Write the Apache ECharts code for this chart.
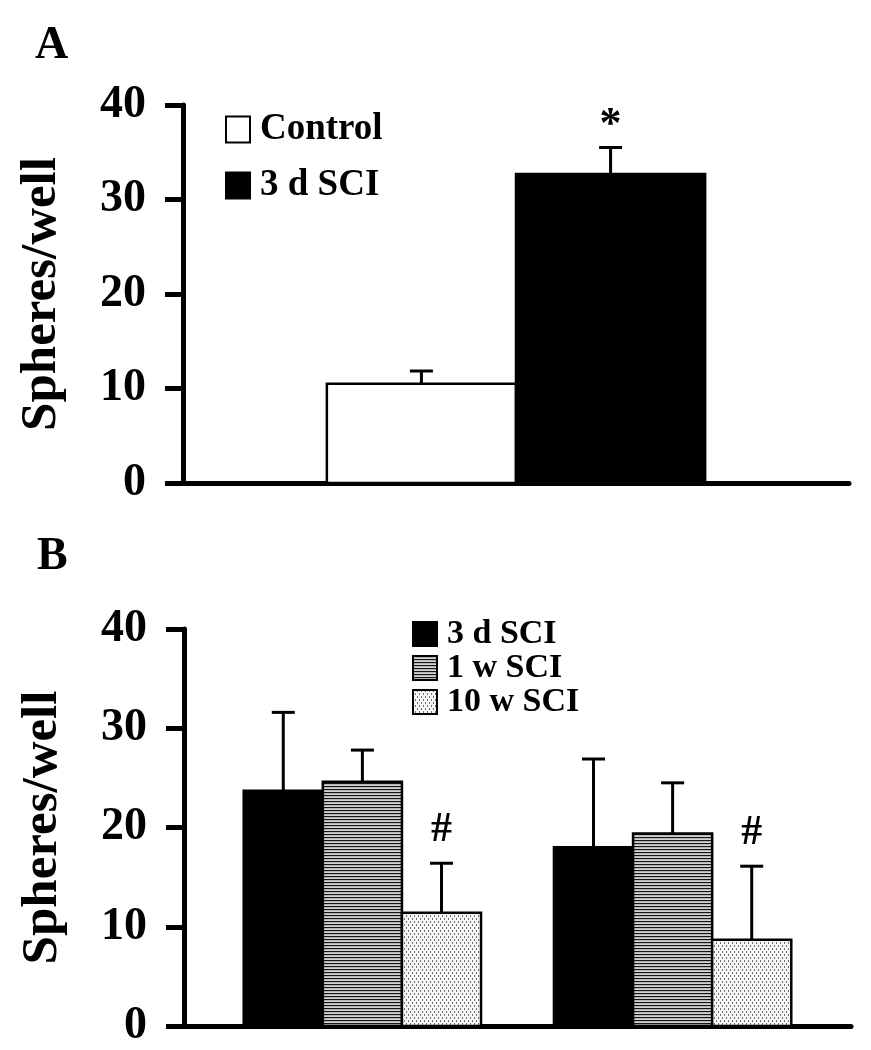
<!DOCTYPE html>
<html>
<head>
<meta charset="utf-8">
<script src="https://cdn.jsdelivr.net/npm/echarts@6/dist/echarts.min.js"></script>
<style>
html,body{margin:0;padding:0;background:#fff;}
#chart{width:871px;height:1050px;}
</style>
</head>
<body>
<div id="chart"></div>
<script>
// ---------- data ----------
const yTicks = [0, 10, 20, 30, 40];
// Panel A (single group)
const groupsA = ['Group'];
const controlA = [10.5];
const controlAErr = [1.35];
const sci3dA = [32.7];
const sci3dAErr = [2.8];
const annControlA = [''];
const annSci3dA = ['*'];
// Panel B (two groups)
const groupsB = ['Group 1', 'Group 2'];
const sci3dB = [23.7, 18.0];
const sci3dBErr = [7.9, 8.9];
const sci1wB = [24.6, 19.4];
const sci1wBErr = [3.2, 5.1];
const sci10wB = [11.4, 8.7];
const sci10wBErr = [5.0, 7.4];
const annSci10wB = ['#', '#'];

// ---------- patterns ----------
function stripePattern() {
  const c = document.createElement('canvas');
  c.width = 4; c.height = 3;
  const g = c.getContext('2d');
  g.fillStyle = '#b4b4b4'; g.fillRect(0, 0, 4, 3);
  g.fillStyle = '#151515'; g.fillRect(0, 0, 4, 1);
  g.fillStyle = '#d2d2d2'; g.fillRect(0, 2, 4, 1);
  return c;
}
function dotPattern() {
  const c = document.createElement('canvas');
  c.width = 4; c.height = 6;
  const g = c.getContext('2d');
  g.fillStyle = '#f6f6f6'; g.fillRect(0, 0, 4, 6);
  g.fillStyle = '#6e6e6e';
  g.fillRect(0, 0, 1, 2);
  g.fillRect(2, 3, 1, 2);
  return c;
}
const FILL = {
  white: '#ffffff',
  black: '#000000',
  stripe: { image: stripePattern(), repeat: 'repeat' },
  dots: { image: dotPattern(), repeat: 'repeat' }
};

const FONT = 'Liberation Serif';

function toData(vals, errs, ann) {
  return vals.map((v, i) => [i + 1, v, errs[i], ann ? ann[i] : '']);
}

function makeRender(offset, width, fill, annFont, annGap) {
  return function (params, api) {
    const x = api.value(0) + offset;
    const v = api.value(1);
    const e = api.value(2);
    const ann = api.value(3);
    const pTL = api.coord([x - width / 2, v]);
    const pBR = api.coord([x + width / 2, 0]);
    const pC = api.coord([x, v]);
    const pT = api.coord([x, v + e]);
    const children = [
      {
        type: 'rect',
        shape: { x: pTL[0], y: pTL[1], width: pBR[0] - pTL[0], height: pBR[1] - pTL[1] },
        style: { fill: fill, stroke: '#000', lineWidth: 2.5 }
      },
      {
        type: 'line',
        shape: { x1: pC[0], y1: pC[1], x2: pT[0], y2: pT[1] },
        style: { stroke: '#000', lineWidth: 3 }
      },
      {
        type: 'line',
        shape: { x1: pT[0] - 11.5, y1: pT[1], x2: pT[0] + 11.5, y2: pT[1] },
        style: { stroke: '#000', lineWidth: 3 }
      }
    ];
    if (ann && ann !== '') {
      children.push({
        type: 'text',
        style: {
          text: ann, x: pT[0], y: pT[1] - annGap,
          fill: '#000', align: 'center', verticalAlign: 'middle',
          font: 'bold ' + annFont + 'px "' + FONT + '"'
        }
      });
    }
    return { type: 'group', children: children };
  };
}

const chart = echarts.init(document.getElementById('chart'), null, { renderer: 'canvas' });

const yAxisCommon = {
  type: 'value', min: 0, max: 40, interval: 10,
  name: 'Spheres/well', nameLocation: 'middle', nameGap: 116,
  nameTextStyle: { fontFamily: FONT, fontWeight: 'bold', fontSize: 51, color: '#000' },
  axisLine: { show: true, lineStyle: { color: '#000', width: 5 } },
  axisTick: { show: true, inside: false, length: 18, lineStyle: { color: '#000', width: 5 } },
  axisLabel: { margin: 37, fontFamily: FONT, fontWeight: 'bold', fontSize: 46, color: '#000',
    formatter: v => String(v) },
  splitLine: { show: false }
};
const xAxisCommon = {
  type: 'value',
  axisLine: { show: true, onZero: true, lineStyle: { color: '#000', width: 5 } },
  axisTick: { show: false }, axisLabel: { show: false }, splitLine: { show: false }
};

const wA = 0.568;
const wB = 0.255;

const option = {
  backgroundColor: '#fff',
  animation: false,
  title: [
    { text: 'A', left: 30, top: 18, textStyle: { fontFamily: FONT, fontWeight: 'bold', fontSize: 46, color: '#000' } },
    { text: 'B', left: 32, top: 529, textStyle: { fontFamily: FONT, fontWeight: 'bold', fontSize: 46, color: '#000' } }
  ],
  grid: [
    { left: 183, right: 22, top: 105, bottom: 1050 - 483 },
    { left: 184, right: 20, top: 629, bottom: 1050 - 1026 }
  ],
  xAxis: [
    Object.assign({ gridIndex: 0, min: 0, max: 2 }, xAxisCommon),
    Object.assign({ gridIndex: 1, min: 0.425, max: 2.575 }, xAxisCommon)
  ],
  yAxis: [
    Object.assign({ gridIndex: 0 }, yAxisCommon),
    Object.assign({ gridIndex: 1 }, yAxisCommon)
  ],
  legend: [
    {
      orient: 'vertical', left: 220, top: 106, icon: 'rect',
      itemWidth: 24, itemHeight: 26, itemGap: 19,
      textStyle: { fontFamily: FONT, fontWeight: 'bold', fontSize: 37, color: '#000', lineHeight: 36, padding: [0, 0, 0, 5] },
      data: [
        { name: 'Control', itemStyle: { color: FILL.white, borderColor: '#000', borderWidth: 2 } },
        { name: '3 d SCI', itemStyle: { color: FILL.black, borderColor: '#000', borderWidth: 2 } }
      ]
    },
    {
      orient: 'vertical', left: 407, top: 612, icon: 'rect',
      itemWidth: 24, itemHeight: 24, itemGap: 0,
      textStyle: { fontFamily: FONT, fontWeight: 'bold', fontSize: 34, color: '#000', lineHeight: 33, padding: [0, 0, 0, 5] },
      data: [
        { name: '3 d SCI ', itemStyle: { color: FILL.black, borderColor: '#000', borderWidth: 2 } },
        { name: '1 w SCI', itemStyle: { color: FILL.stripe, borderColor: '#000', borderWidth: 2 } },
        { name: '10 w SCI', itemStyle: { color: FILL.dots, borderColor: '#000', borderWidth: 2 } }
      ]
    }
  ],
  series: [
    {
      name: 'Control', type: 'custom', xAxisIndex: 0, yAxisIndex: 0,
      itemStyle: { color: FILL.white, borderColor: '#000', borderWidth: 2 },
      encode: { x: 0, y: 1 },
      renderItem: makeRender(-wA / 2, wA, FILL.white, 44, 22),
      data: toData(controlA, controlAErr, annControlA)
    },
    {
      name: '3 d SCI', type: 'custom', xAxisIndex: 0, yAxisIndex: 0,
      itemStyle: { color: FILL.black, borderColor: '#000', borderWidth: 2 },
      encode: { x: 0, y: 1 },
      renderItem: makeRender(wA / 2, wA, FILL.black, 44, 22),
      data: toData(sci3dA, sci3dAErr, annSci3dA)
    },
    {
      name: '3 d SCI ', type: 'custom', xAxisIndex: 1, yAxisIndex: 1,
      itemStyle: { color: FILL.black, borderColor: '#000', borderWidth: 2 },
      encode: { x: 0, y: 1 },
      renderItem: makeRender(-wB, wB, FILL.black, 42, 33),
      data: toData(sci3dB, sci3dBErr, null)
    },
    {
      name: '1 w SCI', type: 'custom', xAxisIndex: 1, yAxisIndex: 1,
      itemStyle: { color: FILL.stripe, borderColor: '#000', borderWidth: 2 },
      encode: { x: 0, y: 1 },
      renderItem: makeRender(0, wB, FILL.stripe, 42, 33),
      data: toData(sci1wB, sci1wBErr, null)
    },
    {
      name: '10 w SCI', type: 'custom', xAxisIndex: 1, yAxisIndex: 1,
      itemStyle: { color: FILL.dots, borderColor: '#000', borderWidth: 2 },
      encode: { x: 0, y: 1 },
      renderItem: makeRender(wB, wB, FILL.dots, 42, 33),
      data: toData(sci10wB, sci10wBErr, annSci10wB)
    }
  ]
};
chart.setOption(option);
</script>
</body>
</html>
